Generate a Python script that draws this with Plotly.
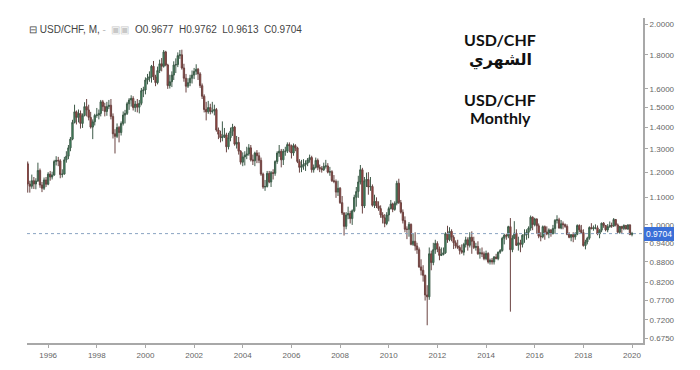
import math
import pandas as pd
import plotly.graph_objects as go

# Monthly candles, Mar 1995 .. Jan 2020
start_month = "1995-03-01"
end_month = "2020-01-01"

opens = [
    1.235, 1.152, 1.143, 1.165, 1.152, 1.164, 1.207, 1.148, 1.135, 1.168,
    1.151, 1.192, 1.180, 1.188, 1.245, 1.250, 1.248, 1.190, 1.192, 1.252, 1.268, 1.305,
    1.345, 1.425, 1.478, 1.450, 1.470, 1.420, 1.460, 1.505, 1.488, 1.450, 1.402, 1.428,
    1.460, 1.462, 1.470, 1.530, 1.505, 1.480, 1.505, 1.512, 1.455, 1.370, 1.358, 1.400,
    1.376, 1.420, 1.462, 1.470, 1.520, 1.540, 1.548, 1.500, 1.518, 1.502, 1.522, 1.590,
    1.594, 1.650, 1.660, 1.668, 1.730, 1.668, 1.635, 1.705, 1.745, 1.730, 1.818, 1.738,
    1.618, 1.640, 1.678, 1.738, 1.740, 1.795, 1.800, 1.720, 1.660, 1.615, 1.635, 1.660,
    1.678, 1.700, 1.712, 1.685, 1.618, 1.560, 1.490, 1.478, 1.500, 1.480, 1.482, 1.490,
    1.388, 1.368, 1.352, 1.355, 1.365, 1.310, 1.352, 1.382, 1.402, 1.322, 1.330, 1.290,
    1.242, 1.265, 1.272, 1.278, 1.305, 1.252, 1.248, 1.282, 1.270, 1.250, 1.192, 1.140,
    1.142, 1.195, 1.160, 1.198, 1.195, 1.245, 1.282, 1.290, 1.252, 1.290, 1.290, 1.320,
    1.315, 1.282, 1.315, 1.305, 1.245, 1.220, 1.225, 1.232, 1.238, 1.252, 1.262, 1.210,
    1.220, 1.250, 1.220, 1.215, 1.210, 1.225, 1.226, 1.200, 1.202, 1.165, 1.162, 1.120,
    1.135, 1.080, 1.042, 0.995, 1.035, 1.040, 1.022, 1.050, 1.100, 1.122, 1.160, 1.210,
    1.068, 1.165, 1.170, 1.140, 1.142, 1.070, 1.085, 1.068, 1.058, 1.035, 1.025, 1.005,
    1.035, 1.058, 1.075, 1.055, 1.078, 1.155, 1.080, 1.045, 1.015, 0.985, 0.985, 1.002,
    0.935, 0.945, 0.930, 0.918, 0.865, 0.855, 0.840, 0.785, 0.780, 0.905, 0.878, 0.918,
    0.938, 0.920, 0.900, 0.903, 0.908, 0.970, 0.950, 0.978, 0.958, 0.940, 0.930, 0.925,
    0.915, 0.910, 0.935, 0.950, 0.932, 0.958, 0.945, 0.925, 0.928, 0.905, 0.908, 0.905,
    0.890, 0.906, 0.880, 0.885, 0.880, 0.895, 0.890, 0.910, 0.915, 0.955, 0.965, 0.962,
    0.994, 0.918, 0.955, 0.972, 0.932, 0.940, 0.935, 0.965, 0.967, 0.975, 0.989, 1.027,
    1.001, 1.021, 0.997, 0.962, 0.960, 0.994, 0.976, 0.969, 0.983, 0.970, 0.988, 1.016,
    1.018, 0.989, 1.004, 1.001, 0.995, 0.968, 0.958, 0.967, 0.959, 0.968, 0.998, 0.983,
    0.974, 0.931, 0.943, 0.955, 0.991, 0.987, 0.990, 0.990, 0.969, 0.982, 1.006, 0.998,
    0.983, 0.994, 0.998, 0.996, 1.019, 1.000, 0.975, 0.995, 0.988, 0.998, 0.986, 1.000,
    0.9677,
]

highs = [
    1.245, 1.165, 1.190, 1.180, 1.175, 1.240, 1.215, 1.160, 1.178, 1.180,
    1.200, 1.205, 1.202, 1.252, 1.268, 1.265, 1.255, 1.212, 1.265, 1.290, 1.318, 1.355,
    1.438, 1.515, 1.485, 1.490, 1.485, 1.470, 1.528, 1.545, 1.515, 1.478, 1.440, 1.468,
    1.498, 1.490, 1.540, 1.540, 1.525, 1.530, 1.540, 1.545, 1.470, 1.392, 1.420, 1.408,
    1.430, 1.480, 1.488, 1.530, 1.550, 1.565, 1.560, 1.535, 1.545, 1.540, 1.605, 1.612,
    1.665, 1.685, 1.700, 1.738, 1.762, 1.680, 1.728, 1.770, 1.780, 1.830, 1.825, 1.745,
    1.680, 1.700, 1.760, 1.778, 1.815, 1.830, 1.832, 1.745, 1.685, 1.660, 1.680, 1.705,
    1.720, 1.742, 1.720, 1.695, 1.630, 1.570, 1.530, 1.535, 1.520, 1.530, 1.515, 1.498,
    1.400, 1.385, 1.430, 1.398, 1.375, 1.375, 1.400, 1.418, 1.408, 1.360, 1.355, 1.295,
    1.285, 1.290, 1.310, 1.322, 1.318, 1.275, 1.288, 1.295, 1.285, 1.262, 1.198, 1.168,
    1.205, 1.205, 1.205, 1.212, 1.250, 1.290, 1.318, 1.300, 1.300, 1.310, 1.330, 1.330,
    1.320, 1.325, 1.322, 1.310, 1.255, 1.252, 1.255, 1.250, 1.260, 1.275, 1.270, 1.232,
    1.262, 1.258, 1.232, 1.225, 1.240, 1.252, 1.238, 1.222, 1.208, 1.188, 1.170, 1.165,
    1.140, 1.105, 1.045, 1.045, 1.065, 1.050, 1.055, 1.110, 1.140, 1.185, 1.230, 1.218,
    1.180, 1.198, 1.200, 1.180, 1.150, 1.110, 1.100, 1.085, 1.070, 1.045, 1.038, 1.045,
    1.065, 1.090, 1.080, 1.085, 1.165, 1.173, 1.090, 1.055, 1.030, 0.995, 1.010, 1.005,
    0.970, 0.975, 0.940, 0.925, 0.888, 0.870, 0.842, 0.812, 0.925, 0.915, 0.940, 0.950,
    0.945, 0.928, 0.925, 0.925, 0.975, 0.997, 0.992, 0.985, 0.965, 0.948, 0.950, 0.932,
    0.935, 0.940, 0.960, 0.958, 0.975, 0.978, 0.960, 0.940, 0.945, 0.922, 0.925, 0.912,
    0.915, 0.910, 0.890, 0.892, 0.898, 0.905, 0.912, 0.920, 0.960, 0.970, 0.970, 0.997,
    1.024, 0.965, 1.013, 0.985, 0.960, 0.950, 0.968, 0.985, 0.985, 0.995, 1.033, 1.030,
    1.025, 1.022, 1.005, 0.975, 0.998, 0.998, 0.995, 0.988, 0.985, 1.000, 1.020, 1.034,
    1.025, 1.017, 1.012, 1.005, 1.002, 0.975, 0.968, 0.975, 0.975, 1.002, 1.002, 1.000,
    0.985, 0.950, 0.960, 0.995, 1.006, 0.998, 1.002, 0.998, 0.985, 1.008, 1.010, 1.000,
    1.003, 1.012, 1.008, 1.024, 1.020, 1.005, 0.995, 0.995, 1.002, 1.000, 1.002, 1.002,
    0.9762,
]

lows = [
    1.118, 1.118, 1.133, 1.132, 1.131, 1.160, 1.137, 1.120, 1.128, 1.140,
    1.147, 1.165, 1.170, 1.185, 1.228, 1.225, 1.175, 1.178, 1.190, 1.240, 1.255, 1.290,
    1.340, 1.420, 1.415, 1.425, 1.395, 1.398, 1.455, 1.455, 1.435, 1.395, 1.345, 1.410,
    1.448, 1.440, 1.455, 1.482, 1.455, 1.458, 1.492, 1.440, 1.348, 1.280, 1.350, 1.330,
    1.362, 1.410, 1.420, 1.462, 1.488, 1.505, 1.485, 1.478, 1.475, 1.470, 1.512, 1.555,
    1.570, 1.625, 1.640, 1.635, 1.650, 1.615, 1.625, 1.690, 1.700, 1.722, 1.730, 1.600,
    1.602, 1.610, 1.650, 1.690, 1.725, 1.775, 1.710, 1.640, 1.580, 1.605, 1.615, 1.630,
    1.655, 1.680, 1.650, 1.605, 1.545, 1.475, 1.435, 1.468, 1.465, 1.470, 1.460, 1.380,
    1.345, 1.330, 1.335, 1.350, 1.285, 1.298, 1.335, 1.360, 1.315, 1.302, 1.275, 1.232,
    1.225, 1.228, 1.255, 1.270, 1.245, 1.230, 1.225, 1.238, 1.238, 1.185, 1.133, 1.125,
    1.138, 1.155, 1.140, 1.170, 1.185, 1.235, 1.265, 1.220, 1.230, 1.270, 1.282, 1.285,
    1.258, 1.270, 1.290, 1.238, 1.198, 1.200, 1.210, 1.205, 1.225, 1.240, 1.198, 1.198,
    1.215, 1.208, 1.200, 1.198, 1.205, 1.215, 1.195, 1.185, 1.160, 1.155, 1.098, 1.105,
    1.075, 1.035, 0.964, 0.985, 1.020, 1.005, 1.000, 1.045, 1.065, 1.098, 1.150, 1.040,
    1.060, 1.140, 1.110, 1.125, 1.065, 1.060, 1.060, 1.050, 1.025, 1.005, 0.992, 0.999,
    1.012, 1.055, 1.045, 1.050, 1.070, 1.075, 1.040, 1.005, 0.975, 0.952, 0.960, 0.932,
    0.930, 0.915, 0.905, 0.862, 0.840, 0.822, 0.770, 0.707, 0.772, 0.855, 0.870, 0.905,
    0.910, 0.885, 0.898, 0.900, 0.905, 0.940, 0.945, 0.945, 0.920, 0.922, 0.920, 0.903,
    0.905, 0.900, 0.925, 0.915, 0.925, 0.905, 0.920, 0.915, 0.902, 0.890, 0.895, 0.885,
    0.885, 0.875, 0.872, 0.872, 0.872, 0.888, 0.885, 0.905, 0.912, 0.935, 0.950, 0.955,
    0.741, 0.910, 0.952, 0.930, 0.915, 0.910, 0.925, 0.940, 0.950, 0.955, 0.980, 0.982,
    0.995, 0.970, 0.955, 0.945, 0.955, 0.950, 0.965, 0.955, 0.960, 0.968, 0.970, 1.005,
    0.988, 0.985, 0.985, 0.990, 0.965, 0.955, 0.945, 0.942, 0.950, 0.965, 0.975, 0.972,
    0.928, 0.919, 0.935, 0.950, 0.985, 0.980, 0.985, 0.965, 0.955, 0.975, 0.990, 0.978,
    0.975, 0.990, 0.990, 0.993, 0.995, 0.972, 0.970, 0.970, 0.982, 0.985, 0.983, 0.965,
    0.9613,
]

closes = [
    1.152, 1.143, 1.165, 1.152, 1.164, 1.207, 1.148, 1.135, 1.168, 1.151,
    1.192, 1.180, 1.188, 1.245, 1.250, 1.248, 1.190, 1.192, 1.252, 1.268, 1.305, 1.345,
    1.425, 1.478, 1.450, 1.470, 1.420, 1.460, 1.505, 1.488, 1.450, 1.402, 1.428, 1.460,
    1.462, 1.470, 1.530, 1.505, 1.480, 1.505, 1.512, 1.455, 1.370, 1.358, 1.400, 1.376,
    1.420, 1.462, 1.470, 1.520, 1.540, 1.548, 1.500, 1.518, 1.502, 1.522, 1.590, 1.594,
    1.650, 1.660, 1.668, 1.730, 1.668, 1.635, 1.705, 1.745, 1.730, 1.818, 1.738, 1.618,
    1.640, 1.678, 1.738, 1.740, 1.795, 1.800, 1.720, 1.660, 1.615, 1.635, 1.660, 1.678,
    1.700, 1.712, 1.685, 1.618, 1.560, 1.490, 1.478, 1.500, 1.480, 1.482, 1.490, 1.388,
    1.368, 1.352, 1.355, 1.365, 1.310, 1.352, 1.382, 1.402, 1.322, 1.330, 1.290, 1.242,
    1.265, 1.272, 1.278, 1.305, 1.252, 1.248, 1.282, 1.270, 1.250, 1.192, 1.140, 1.142,
    1.195, 1.160, 1.198, 1.195, 1.245, 1.282, 1.290, 1.252, 1.290, 1.290, 1.320, 1.315,
    1.282, 1.315, 1.305, 1.245, 1.220, 1.225, 1.232, 1.238, 1.252, 1.262, 1.210, 1.220,
    1.250, 1.220, 1.215, 1.210, 1.225, 1.226, 1.200, 1.202, 1.165, 1.162, 1.120, 1.135,
    1.080, 1.042, 0.995, 1.035, 1.040, 1.022, 1.050, 1.100, 1.122, 1.160, 1.210, 1.068,
    1.165, 1.170, 1.140, 1.142, 1.070, 1.085, 1.068, 1.058, 1.035, 1.025, 1.005, 1.035,
    1.058, 1.075, 1.055, 1.078, 1.155, 1.080, 1.045, 1.015, 0.985, 0.985, 1.002, 0.935,
    0.945, 0.930, 0.918, 0.865, 0.855, 0.840, 0.785, 0.780, 0.905, 0.878, 0.918, 0.938,
    0.920, 0.900, 0.903, 0.908, 0.970, 0.950, 0.978, 0.958, 0.940, 0.930, 0.925, 0.915,
    0.910, 0.935, 0.950, 0.932, 0.958, 0.945, 0.925, 0.928, 0.905, 0.908, 0.905, 0.890,
    0.906, 0.880, 0.885, 0.880, 0.895, 0.890, 0.910, 0.915, 0.955, 0.965, 0.962, 0.994,
    0.918, 0.955, 0.972, 0.932, 0.940, 0.935, 0.965, 0.967, 0.975, 0.989, 1.027, 1.001,
    1.021, 0.997, 0.962, 0.960, 0.994, 0.976, 0.969, 0.983, 0.970, 0.988, 1.016, 1.018,
    0.989, 1.004, 1.001, 0.995, 0.968, 0.958, 0.967, 0.959, 0.968, 0.998, 0.983, 0.974,
    0.931, 0.943, 0.955, 0.991, 0.987, 0.990, 0.990, 0.969, 0.982, 1.006, 0.998, 0.983,
    0.994, 0.998, 0.996, 1.019, 1.000, 0.975, 0.995, 0.988, 0.998, 0.986, 1.000, 0.9677,
    0.9704,
]

y_tick_values = [2.0, 1.8, 1.6, 1.5, 1.4, 1.3, 1.2, 1.1, 1.0, 0.94, 0.88, 0.82, 0.77, 0.72, 0.675]
y_tick_labels = ["2.0000", "1.8000", "1.6000", "1.5000", "1.4000", "1.3000", "1.2000",
                 "1.1000", "1.0000", "0.9400", "0.8800", "0.8200", "0.7700", "0.7200", "0.6750"]
x_tick_years = list(range(1996, 2021, 2))

last_price = 0.9704
legend_text = ("⊟ USD/CHF, M, <span style='color:#bbb'>-</span>  "
               "<span style='color:#c8c8c8'>▣▣</span>  O0.9677  H0.9762  L0.9613  C0.9704")
title_lines = ["USD/CHF", "الشهري", "USD/CHF", "Monthly"]

dates = pd.date_range(start_month, end_month, freq="MS")

fig = go.Figure()
fig.add_trace(go.Candlestick(
    x=dates, open=opens, high=highs, low=lows, close=closes,
    increasing=dict(fillcolor="#3f9a68", line=dict(color="#3d5a48", width=1)),
    decreasing=dict(fillcolor="#b3413b", line=dict(color="#6a4341", width=1)),
    whiskerwidth=0, showlegend=False, hoverinfo="skip",
))

fig.add_shape(type="line", xref="paper", x0=0, x1=1, yref="y", y0=last_price, y1=last_price,
              line=dict(color="#8aa3c2", width=1, dash="dot"))

fig.add_annotation(xref="paper", x=1.0, xanchor="left", yref="y", y=math.log10(last_price),
                   text="0.9704", showarrow=False, bgcolor="#3a6fd8", bordercolor="#3a6fd8",
                   borderpad=1, font=dict(family="Liberation Sans, Arial", size=8.5, color="white"),
                   xshift=1)

fig.add_annotation(xref="paper", x=0.0, xanchor="left", yref="paper", y=0.966, yanchor="middle",
                   text=legend_text, showarrow=False,
                   font=dict(family="Liberation Sans, Arial", size=10, color="#444444"))

title_y = [0.934, 0.872, 0.750, 0.695]
for txt, ty in zip(title_lines, title_y):
    fig.add_annotation(xref="paper", x=0.768, xanchor="center", yref="paper", y=ty, yanchor="middle",
                       text=f"<b>{txt}</b>", showarrow=False,
                       font=dict(family="Lato, DejaVu Sans, sans-serif", size=16, color="#111111"))

# page body has an 8px default margin, so the figure is sized to fit the 700x370 window
fig.update_layout(
    width=692, height=362,
    margin=dict(l=19, r=57, t=10, b=25),
    paper_bgcolor="white", plot_bgcolor="white",
    boxgap=0.0,
    xaxis=dict(
        type="date", range=["1995-02-18", "2020-06-14"],
        rangeslider=dict(visible=False),
        tickvals=[f"{y}-01-01" for y in x_tick_years],
        ticktext=[str(y) for y in x_tick_years],
        showgrid=False, zeroline=False,
        showline=True, linecolor="#a8a8a8", linewidth=2,
        ticks="outside", ticklen=3, tickcolor="#a8a8a8",
        tickfont=dict(family="Liberation Sans, Arial", size=8, color="#666666"),
    ),
    yaxis=dict(
        type="log", side="right", range=[-0.1772, 0.3105],
        tickvals=y_tick_values, ticktext=y_tick_labels,
        showgrid=False, zeroline=False,
        showline=True, linecolor="#a8a8a8", linewidth=2,
        ticks="outside", ticklen=3, tickcolor="#a8a8a8",
        tickfont=dict(family="Liberation Sans, Arial", size=8, color="#666666"),
    ),
)

fig.write_html("out.html")
